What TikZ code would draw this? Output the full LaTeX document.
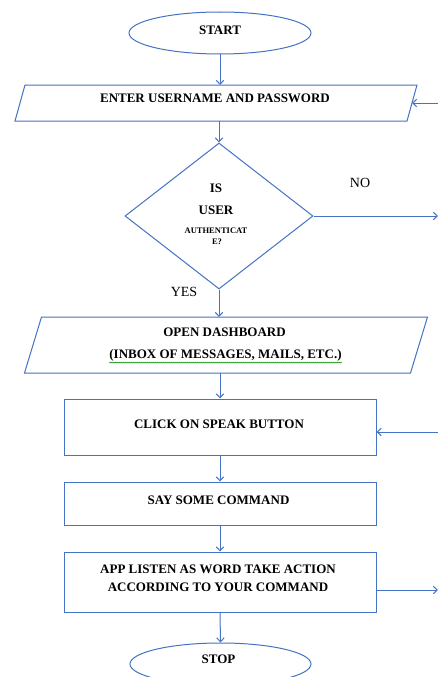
\documentclass[tikz,border=0pt]{standalone}
\usepackage{fontspec}
\setmainfont{Liberation Serif}
\usetikzlibrary{shapes.geometric,arrows.meta,decorations.pathmorphing}
\definecolor{lineblue}{HTML}{4472C4}
\begin{document}
\begin{tikzpicture}[x=1pt,y=-1pt,
  outl/.style={draw=lineblue,line width=1pt},
  ghost/.style={inner sep=0pt,outer sep=0pt},
  arr/.style={draw=lineblue,line width=1pt,-{Straight Barb[length=4pt,width=7.5pt]}},
  lbl/.style={font=\fontsize{13}{15}\selectfont\bfseries,inner sep=0pt,align=center},
  small/.style={font=\fontsize{8.5}{9}\selectfont\bfseries,inner sep=0pt},
  yn/.style={font=\fontsize{14}{16}\selectfont,inner sep=0pt}]
\useasboundingbox (0,0) rectangle (439,677);
\fill[white] (0,0) rectangle (439,677);
\begin{scope}
\clip (0,0) rectangle (439,677);
% shapes
\node[ellipse,outl,minimum width=182pt,minimum height=42pt,inner sep=0pt] (start) at (220,33) {};
\node[ghost,minimum width=392pt,minimum height=36pt] (enter) at (216,103) {};
\draw[outl] ([xshift=5pt]enter.north west) -- ([xshift=5pt]enter.north east) -- ([xshift=-5pt]enter.south east) -- ([xshift=-5pt]enter.south west) -- cycle;
\node[diamond,outl,minimum width=188pt,minimum height=146pt,inner sep=0pt] (dec) at (219,216) {};
\node[ghost,minimum width=386pt,minimum height=56pt] (open) at (226,345) {};
\draw[outl] ([xshift=8.5pt]open.north west) -- ([xshift=8.5pt]open.north east) -- ([xshift=-8.5pt]open.south east) -- ([xshift=-8.5pt]open.south west) -- cycle;
\node[rectangle,outl,minimum width=312pt,minimum height=56pt] (click) at (220,427) {};
\node[rectangle,outl,minimum width=312pt,minimum height=43pt] (say) at (220,503.5) {};
\node[rectangle,outl,minimum width=312pt,minimum height=60pt] (app) at (220,582) {};
\node[ellipse,outl,minimum width=181pt,minimum height=42pt,inner sep=0pt] (stop) at (220.5,664) {};
% texts
\node[lbl] (tstart) at (220,30) {START};
\node[lbl] (tenter) at (215,98) {ENTER\ USERNAME AND PASSWORD};
\node[lbl] (tis) at (216,188) {IS};
\node[lbl] (tuser) at (216,210) {USER};
\node[small] (tauth) at (216,231) {AUTHENTICAT};
\node[small] (te) at (217,242) {E?};
\node[yn] (tyes) at (184,292) {YES};
\node[yn] (tno) at (360,183) {NO};
\node[lbl] (topen) at (224.5,332) {OPEN DASHBOARD};
\node[lbl] (tinbox) at (225.5,355) {(INBOX OF MESSAGES, MAILS, ETC.)};
\draw[green!55!black,line width=0.5pt,decorate,decoration={snake,amplitude=0.5pt,segment length=2pt}] ([yshift=-1.5pt]tinbox.south west) -- ([yshift=-1.5pt]tinbox.south east);
\node[lbl] (tclick) at (219,424) {CLICK ON SPEAK BUTTON};
\node[lbl] (tsay) at (218.5,500) {SAY SOME COMMAND};
\node[lbl] (tapp) at (218,578) {APP LISTEN\ AS WORD TAKE ACTION\\[3pt]ACCORDING TO YOUR COMMAND};
\node[lbl] (tstop) at (218.5,659) {STOP};
% free ends
\coordinate (in1) at (438,103);
\coordinate (noend) at (438,213);
\coordinate (in2) at (438,432);
\coordinate (out3) at (438,590);
% connectors
\draw[arr] (start.south) -- (start.south |- enter.north);
\draw[arr] (enter.south -| dec.north) -- (dec.north);
\draw[arr] (dec.south) -- (dec.south |- open.north);
\draw[arr] (open.south -| click.north) -- (click.north);
\draw[arr] (click.south) -- (say.north);
\draw[arr] (say.south) -- (app.north);
\draw[arr] (app.south) -- (stop.north);
\draw[arr] (dec.east) -- (dec.east -| noend);
\draw[arr] (in1) -- (enter.east);
\draw[arr] (in2) -- (in2 -| click.east);
\draw[arr] (app.east |- out3) -- (out3);
\end{scope}
\end{tikzpicture}
\end{document}
